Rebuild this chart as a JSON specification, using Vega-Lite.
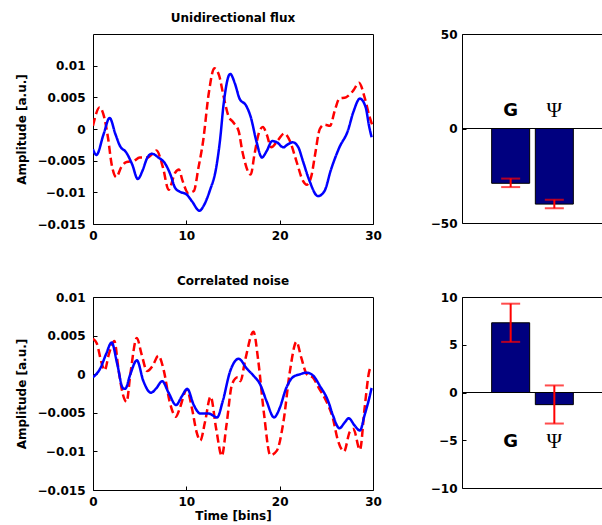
{
  "$schema": "https://vega.github.io/schema/vega-lite/v6.json",
  "background": "white",
  "padding": {"left": 15, "top": 11, "right": 0, "bottom": 0},
  "config": {
    "font": "DejaVu Sans",
    "view": {"stroke": "black", "strokeWidth": 1},
    "axis": {"grid": false, "domain": false, "tickColor": "black", "tickSize": -4, "tickWidth": 1, "labelFlush": false, "labelOverlap": false,
      "labelFont": "DejaVu Sans", "labelFontSize": 12, "labelFontWeight": "bold", "labelColor": "black",
      "titleFont": "DejaVu Sans", "titleFontSize": 12, "titleFontWeight": "bold", "titleColor": "black"},
    "axisX": {"labelPadding": 10, "titlePadding": 3},
    "axisY": {"labelPadding": 12, "titlePadding": 8},
    "title": {"font": "DejaVu Sans", "fontSize": 12, "fontWeight": "bold", "color": "black", "frame": "group"}
  },
  "datasets": {
    "flux": [
      {"series": "s2", "t": 0, "v": 0.0005}, {"series": "s2", "t": 0.7, "v": 0.0034}, {"series": "s2", "t": 1.1, "v": 0.0024},
      {"series": "s2", "t": 1.6, "v": -0.0013}, {"series": "s2", "t": 2.0, "v": -0.0056}, {"series": "s2", "t": 2.5, "v": -0.0076},
      {"series": "s2", "t": 3.0, "v": -0.0061}, {"series": "s2", "t": 3.6, "v": -0.0052}, {"series": "s2", "t": 4.3, "v": -0.0051},
      {"series": "s2", "t": 5.0, "v": -0.0045}, {"series": "s2", "t": 5.8, "v": -0.0045}, {"series": "s2", "t": 6.6, "v": -0.0036},
      {"series": "s2", "t": 6.8, "v": -0.0034}, {"series": "s2", "t": 7.5, "v": -0.0061}, {"series": "s2", "t": 8.1, "v": -0.0096},
      {"series": "s2", "t": 8.8, "v": -0.0069}, {"series": "s2", "t": 9.2, "v": -0.0064}, {"series": "s2", "t": 9.6, "v": -0.0082},
      {"series": "s2", "t": 10.2, "v": -0.0101}, {"series": "s2", "t": 10.8, "v": -0.0098}, {"series": "s2", "t": 11.3, "v": -0.0061},
      {"series": "s2", "t": 11.8, "v": -0.0019}, {"series": "s2", "t": 12.4, "v": 0.0056}, {"series": "s2", "t": 13.0, "v": 0.0096},
      {"series": "s2", "t": 13.5, "v": 0.0085}, {"series": "s2", "t": 14.0, "v": 0.0051}, {"series": "s2", "t": 14.5, "v": 0.0021},
      {"series": "s2", "t": 15.0, "v": 0.0011}, {"series": "s2", "t": 15.6, "v": -0.0003}, {"series": "s2", "t": 16.0, "v": -0.0035},
      {"series": "s2", "t": 16.9, "v": -0.0072}, {"series": "s2", "t": 17.3, "v": -0.004}, {"series": "s2", "t": 17.8, "v": -0.0005},
      {"series": "s2", "t": 18.2, "v": 0.0003}, {"series": "s2", "t": 18.6, "v": -0.0008}, {"series": "s2", "t": 19.1, "v": -0.0029},
      {"series": "s2", "t": 19.8, "v": -0.0018}, {"series": "s2", "t": 20.5, "v": -0.0007}, {"series": "s2", "t": 21.1, "v": -0.0019},
      {"series": "s2", "t": 21.8, "v": -0.0051}, {"series": "s2", "t": 22.5, "v": -0.0082}, {"series": "s2", "t": 22.9, "v": -0.0088},
      {"series": "s2", "t": 23.4, "v": -0.0074}, {"series": "s2", "t": 23.8, "v": -0.004}, {"series": "s2", "t": 24.3, "v": 0.0},
      {"series": "s2", "t": 24.8, "v": 0.0007}, {"series": "s2", "t": 25.4, "v": 0.0005}, {"series": "s2", "t": 25.9, "v": 0.0029},
      {"series": "s2", "t": 26.4, "v": 0.0048}, {"series": "s2", "t": 27.1, "v": 0.005}, {"series": "s2", "t": 27.9, "v": 0.0061},
      {"series": "s2", "t": 28.5, "v": 0.0073}, {"series": "s2", "t": 29.1, "v": 0.005}, {"series": "s2", "t": 29.6, "v": 0.0021},
      {"series": "s2", "t": 29.9, "v": 0.0007},
      {"series": "s1", "t": 0, "v": -0.0032}, {"series": "s1", "t": 0.36, "v": -0.0041}, {"series": "s1", "t": 1.14, "v": -0.0008},
      {"series": "s1", "t": 1.78, "v": 0.00175}, {"series": "s1", "t": 2.4, "v": -0.0008}, {"series": "s1", "t": 2.9, "v": -0.0027},
      {"series": "s1", "t": 3.56, "v": -0.0037}, {"series": "s1", "t": 4.2, "v": -0.0056}, {"series": "s1", "t": 4.8, "v": -0.0079},
      {"series": "s1", "t": 5.3, "v": -0.0066}, {"series": "s1", "t": 5.8, "v": -0.0046}, {"series": "s1", "t": 6.3, "v": -0.0039},
      {"series": "s1", "t": 7.0, "v": -0.0045}, {"series": "s1", "t": 7.7, "v": -0.0054}, {"series": "s1", "t": 8.3, "v": -0.0072},
      {"series": "s1", "t": 8.8, "v": -0.0093}, {"series": "s1", "t": 9.3, "v": -0.0099}, {"series": "s1", "t": 10.0, "v": -0.0103},
      {"series": "s1", "t": 10.6, "v": -0.0114}, {"series": "s1", "t": 11.4, "v": -0.0129}, {"series": "s1", "t": 11.9, "v": -0.012},
      {"series": "s1", "t": 12.5, "v": -0.0098}, {"series": "s1", "t": 13.2, "v": -0.0061}, {"series": "s1", "t": 13.6, "v": -0.0019},
      {"series": "s1", "t": 14.0, "v": 0.004}, {"series": "s1", "t": 14.7, "v": 0.0087}, {"series": "s1", "t": 15.2, "v": 0.0072},
      {"series": "s1", "t": 15.7, "v": 0.0048}, {"series": "s1", "t": 16.4, "v": 0.0037}, {"series": "s1", "t": 16.9, "v": 0.0019},
      {"series": "s1", "t": 17.5, "v": -0.0019}, {"series": "s1", "t": 18.1, "v": -0.0045}, {"series": "s1", "t": 18.6, "v": -0.0035},
      {"series": "s1", "t": 19.2, "v": -0.0019}, {"series": "s1", "t": 19.7, "v": -0.0021}, {"series": "s1", "t": 20.4, "v": -0.0029},
      {"series": "s1", "t": 20.8, "v": -0.0025}, {"series": "s1", "t": 21.4, "v": -0.0021}, {"series": "s1", "t": 22.0, "v": -0.0029},
      {"series": "s1", "t": 22.5, "v": -0.0051}, {"series": "s1", "t": 23.2, "v": -0.0082}, {"series": "s1", "t": 24.1, "v": -0.0106},
      {"series": "s1", "t": 24.8, "v": -0.0098}, {"series": "s1", "t": 25.5, "v": -0.0064}, {"series": "s1", "t": 26.4, "v": -0.0029},
      {"series": "s1", "t": 27.3, "v": -0.0003}, {"series": "s1", "t": 27.9, "v": 0.0027}, {"series": "s1", "t": 28.6, "v": 0.0048},
      {"series": "s1", "t": 29.2, "v": 0.0035}, {"series": "s1", "t": 29.6, "v": 0.0003}, {"series": "s1", "t": 29.85, "v": -0.0013}
    ],
    "noise": [
      {"series": "s2", "t": 0, "v": 0.0046}, {"series": "s2", "t": 0.4, "v": 0.004}, {"series": "s2", "t": 0.96, "v": 0.0013},
      {"series": "s2", "t": 1.25, "v": 0.0005}, {"series": "s2", "t": 1.7, "v": 0.0026}, {"series": "s2", "t": 2.3, "v": 0.0043},
      {"series": "s2", "t": 2.7, "v": 0.0009}, {"series": "s2", "t": 3.2, "v": -0.0026}, {"series": "s2", "t": 3.6, "v": -0.0036},
      {"series": "s2", "t": 4.0, "v": 0.0}, {"series": "s2", "t": 4.7, "v": 0.0047}, {"series": "s2", "t": 5.2, "v": 0.0026},
      {"series": "s2", "t": 5.8, "v": 0.0004}, {"series": "s2", "t": 6.4, "v": 0.0011}, {"series": "s2", "t": 7.0, "v": 0.0024},
      {"series": "s2", "t": 7.6, "v": 0.0004}, {"series": "s2", "t": 8.2, "v": -0.0035}, {"series": "s2", "t": 8.9, "v": -0.0055},
      {"series": "s2", "t": 9.3, "v": -0.0044}, {"series": "s2", "t": 10.05, "v": -0.002}, {"series": "s2", "t": 10.6, "v": -0.0044},
      {"series": "s2", "t": 11.1, "v": -0.0075}, {"series": "s2", "t": 11.5, "v": -0.0086}, {"series": "s2", "t": 12.0, "v": -0.0062},
      {"series": "s2", "t": 12.6, "v": -0.0029}, {"series": "s2", "t": 13.2, "v": -0.0071}, {"series": "s2", "t": 13.8, "v": -0.0106},
      {"series": "s2", "t": 14.3, "v": -0.0066}, {"series": "s2", "t": 14.9, "v": -0.0013}, {"series": "s2", "t": 15.5, "v": -0.0004},
      {"series": "s2", "t": 15.8, "v": -0.0009}, {"series": "s2", "t": 16.3, "v": 0.0018}, {"series": "s2", "t": 17.2, "v": 0.0055},
      {"series": "s2", "t": 17.7, "v": 0.0018}, {"series": "s2", "t": 18.3, "v": -0.0049}, {"series": "s2", "t": 19.0, "v": -0.0105},
      {"series": "s2", "t": 19.7, "v": -0.0099}, {"series": "s2", "t": 20.4, "v": -0.0062}, {"series": "s2", "t": 21.1, "v": 0.0004},
      {"series": "s2", "t": 21.8, "v": 0.0042}, {"series": "s2", "t": 22.3, "v": 0.0022}, {"series": "s2", "t": 22.9, "v": 0.0},
      {"series": "s2", "t": 23.6, "v": -0.0005}, {"series": "s2", "t": 24.2, "v": -0.0018}, {"series": "s2", "t": 25.0, "v": -0.0035},
      {"series": "s2", "t": 25.7, "v": -0.0057}, {"series": "s2", "t": 26.2, "v": -0.0084}, {"series": "s2", "t": 26.9, "v": -0.01},
      {"series": "s2", "t": 27.5, "v": -0.0075}, {"series": "s2", "t": 27.9, "v": -0.0071}, {"series": "s2", "t": 28.6, "v": -0.0098},
      {"series": "s2", "t": 29.1, "v": -0.0044}, {"series": "s2", "t": 29.6, "v": 0.0004}, {"series": "s2", "t": 29.85, "v": 0.001},
      {"series": "s1", "t": 0, "v": -0.0004}, {"series": "s1", "t": 0.8, "v": 0.0008}, {"series": "s1", "t": 1.4, "v": 0.0026},
      {"series": "s1", "t": 2.0, "v": 0.0041}, {"series": "s1", "t": 2.6, "v": 0.0013}, {"series": "s1", "t": 3.2, "v": -0.0018},
      {"series": "s1", "t": 3.45, "v": -0.0019}, {"series": "s1", "t": 4.0, "v": 0.0}, {"series": "s1", "t": 4.7, "v": 0.0018},
      {"series": "s1", "t": 5.4, "v": -0.0009}, {"series": "s1", "t": 6.2, "v": -0.0024}, {"series": "s1", "t": 6.8, "v": -0.0018},
      {"series": "s1", "t": 7.4, "v": -0.0009}, {"series": "s1", "t": 8.1, "v": -0.0024}, {"series": "s1", "t": 8.9, "v": -0.004},
      {"series": "s1", "t": 9.5, "v": -0.0029}, {"series": "s1", "t": 10.1, "v": -0.0019}, {"series": "s1", "t": 10.8, "v": -0.004},
      {"series": "s1", "t": 11.5, "v": -0.0051}, {"series": "s1", "t": 12.4, "v": -0.0051}, {"series": "s1", "t": 13.3, "v": -0.0056},
      {"series": "s1", "t": 13.9, "v": -0.0035}, {"series": "s1", "t": 14.7, "v": 0.0004}, {"series": "s1", "t": 15.6, "v": 0.002},
      {"series": "s1", "t": 16.5, "v": 0.0007}, {"series": "s1", "t": 17.2, "v": -0.0002}, {"series": "s1", "t": 17.9, "v": -0.0013},
      {"series": "s1", "t": 18.6, "v": -0.0035}, {"series": "s1", "t": 19.4, "v": -0.0056}, {"series": "s1", "t": 20.0, "v": -0.0044},
      {"series": "s1", "t": 20.7, "v": -0.0018}, {"series": "s1", "t": 21.4, "v": -0.0004}, {"series": "s1", "t": 22.2, "v": 0.0},
      {"series": "s1", "t": 22.9, "v": 0.0002}, {"series": "s1", "t": 23.6, "v": -0.0002}, {"series": "s1", "t": 24.3, "v": -0.0015},
      {"series": "s1", "t": 25.2, "v": -0.0035}, {"series": "s1", "t": 25.7, "v": -0.0053}, {"series": "s1", "t": 26.4, "v": -0.007},
      {"series": "s1", "t": 27.0, "v": -0.0062}, {"series": "s1", "t": 27.4, "v": -0.0057}, {"series": "s1", "t": 28.0, "v": -0.0066},
      {"series": "s1", "t": 28.6, "v": -0.0073}, {"series": "s1", "t": 29.1, "v": -0.0053}, {"series": "s1", "t": 29.6, "v": -0.0031},
      {"series": "s1", "t": 29.85, "v": -0.0018}
    ],
    "fluxBars": [
      {"label": "G", "pos": 1, "value": -29, "lo": -31, "hi": -26.5},
      {"label": "Ψ", "pos": 2, "value": -40, "lo": -42.2, "hi": -37.7}
    ],
    "noiseBars": [
      {"label": "G", "pos": 1, "value": 7.3, "lo": 5.3, "hi": 9.3},
      {"label": "Ψ", "pos": 2, "value": -1.27, "lo": -3.25, "hi": 0.74}
    ]
  },
  "columns": 2,
  "spacing": {"row": 73, "column": 89},
  "bounds": "flush",
  "concat": [
    {
      "width": 280, "height": 190,
      "title": {"text": "Unidirectional flux", "offset": 9},
      "data": {"name": "flux"},
      "mark": {"type": "line", "interpolate": "monotone", "strokeWidth": 2.5, "strokeCap": "butt", "clip": true},
      "encoding": {
        "x": {"field": "t", "type": "quantitative", "scale": {"domain": [0, 30], "nice": false, "zero": false}, "axis": {"values": [0, 10, 20, 30], "title": null}},
        "y": {"field": "v", "type": "quantitative", "scale": {"domain": [-0.015, 0.015], "nice": false}, "axis": {"values": [-0.015, -0.01, -0.005, 0, 0.005, 0.01], "format": ".3~f", "title": "Amplitude [a.u.]"}},
        "color": {"field": "series", "type": "nominal", "scale": {"domain": ["s2", "s1"], "range": ["#ff0000", "#0000ff"]}, "legend": null},
        "strokeDash": {"field": "series", "type": "nominal", "scale": {"domain": ["s2", "s1"], "range": [[8, 4], [1, 0]]}, "legend": null}
      }
    },
    {
      "width": 141, "height": 189,
      "data": {"name": "fluxBars"},
      "layer": [
        {
          "mark": {"type": "bar", "orient": "vertical", "width": 38, "color": "#00007f", "stroke": "black", "strokeWidth": 1},
          "encoding": {
            "x": {"field": "pos", "type": "quantitative", "scale": {"domain": [0, 3], "nice": false, "zero": false}, "axis": null},
            "y": {"field": "value", "type": "quantitative", "scale": {"domain": [-50, 50], "nice": false}, "axis": {"values": [-50, 0, 50], "title": null, "labelPadding": 9}},
            "y2": {"datum": 0}
          }
        },
        {"mark": {"type": "rule", "color": "black", "strokeWidth": 1}, "encoding": {"y": {"datum": 0}}},
        {"mark": {"type": "rule", "color": "#ff0000", "strokeWidth": 2}, "encoding": {"x": {"field": "pos", "type": "quantitative"}, "y": {"field": "lo", "type": "quantitative"}, "y2": {"field": "hi"}}},
        {"mark": {"type": "tick", "orient": "horizontal", "size": 19, "thickness": 2, "color": "#ff0000"}, "encoding": {"x": {"field": "pos", "type": "quantitative"}, "y": {"field": "lo", "type": "quantitative"}}},
        {"mark": {"type": "tick", "orient": "horizontal", "size": 19, "thickness": 2, "color": "#ff0000"}, "encoding": {"x": {"field": "pos", "type": "quantitative"}, "y": {"field": "hi", "type": "quantitative"}}},
        {"transform": [{"filter": {"field": "label", "equal": "G"}}], "mark": {"type": "text", "font": "DejaVu Sans", "fontWeight": "bold", "fontSize": 18, "baseline": "middle", "color": "black"}, "encoding": {"x": {"field": "pos", "type": "quantitative"}, "y": {"datum": 9}, "text": {"field": "label"}}},
        {"transform": [{"filter": {"field": "label", "equal": "Ψ"}}], "mark": {"type": "text", "font": "Liberation Serif", "fontSize": 21, "baseline": "middle", "color": "black"}, "encoding": {"x": {"field": "pos", "type": "quantitative"}, "y": {"datum": 9}, "text": {"field": "label"}}}
      ]
    },
    {
      "width": 280, "height": 193,
      "title": {"text": "Correlated noise", "offset": 3},
      "data": {"name": "noise"},
      "mark": {"type": "line", "interpolate": "monotone", "strokeWidth": 2.5, "strokeCap": "butt", "clip": true},
      "encoding": {
        "x": {"field": "t", "type": "quantitative", "scale": {"domain": [0, 30], "nice": false, "zero": false}, "axis": {"values": [0, 10, 20, 30], "title": "Time [bins]"}},
        "y": {"field": "v", "type": "quantitative", "scale": {"domain": [-0.015, 0.01], "nice": false}, "axis": {"values": [-0.015, -0.01, -0.005, 0, 0.005, 0.01], "format": ".3~f", "title": "Amplitude [a.u.]"}},
        "color": {"field": "series", "type": "nominal", "scale": {"domain": ["s2", "s1"], "range": ["#ff0000", "#0000ff"]}, "legend": null},
        "strokeDash": {"field": "series", "type": "nominal", "scale": {"domain": ["s2", "s1"], "range": [[8, 4], [1, 0]]}, "legend": null}
      }
    },
    {
      "width": 141, "height": 191,
      "data": {"name": "noiseBars"},
      "layer": [
        {
          "mark": {"type": "bar", "orient": "vertical", "width": 38, "color": "#00007f", "stroke": "black", "strokeWidth": 1},
          "encoding": {
            "x": {"field": "pos", "type": "quantitative", "scale": {"domain": [0, 3], "nice": false, "zero": false}, "axis": null},
            "y": {"field": "value", "type": "quantitative", "scale": {"domain": [-10, 10], "nice": false}, "axis": {"values": [-10, -5, 0, 5, 10], "title": null, "labelPadding": 9}},
            "y2": {"datum": 0}
          }
        },
        {"mark": {"type": "rule", "color": "black", "strokeWidth": 1}, "encoding": {"y": {"datum": 0}}},
        {"mark": {"type": "rule", "color": "#ff0000", "strokeWidth": 2}, "encoding": {"x": {"field": "pos", "type": "quantitative"}, "y": {"field": "lo", "type": "quantitative"}, "y2": {"field": "hi"}}},
        {"mark": {"type": "tick", "orient": "horizontal", "size": 19, "thickness": 2, "color": "#ff0000"}, "encoding": {"x": {"field": "pos", "type": "quantitative"}, "y": {"field": "lo", "type": "quantitative"}}},
        {"mark": {"type": "tick", "orient": "horizontal", "size": 19, "thickness": 2, "color": "#ff0000"}, "encoding": {"x": {"field": "pos", "type": "quantitative"}, "y": {"field": "hi", "type": "quantitative"}}},
        {"transform": [{"filter": {"field": "label", "equal": "G"}}], "mark": {"type": "text", "font": "DejaVu Sans", "fontWeight": "bold", "fontSize": 18, "baseline": "middle", "color": "black"}, "encoding": {"x": {"field": "pos", "type": "quantitative"}, "y": {"datum": -5.2}, "text": {"field": "label"}}},
        {"transform": [{"filter": {"field": "label", "equal": "Ψ"}}], "mark": {"type": "text", "font": "Liberation Serif", "fontSize": 21, "baseline": "middle", "color": "black"}, "encoding": {"x": {"field": "pos", "type": "quantitative"}, "y": {"datum": -5.2}, "text": {"field": "label"}}}
      ]
    }
  ]
}
